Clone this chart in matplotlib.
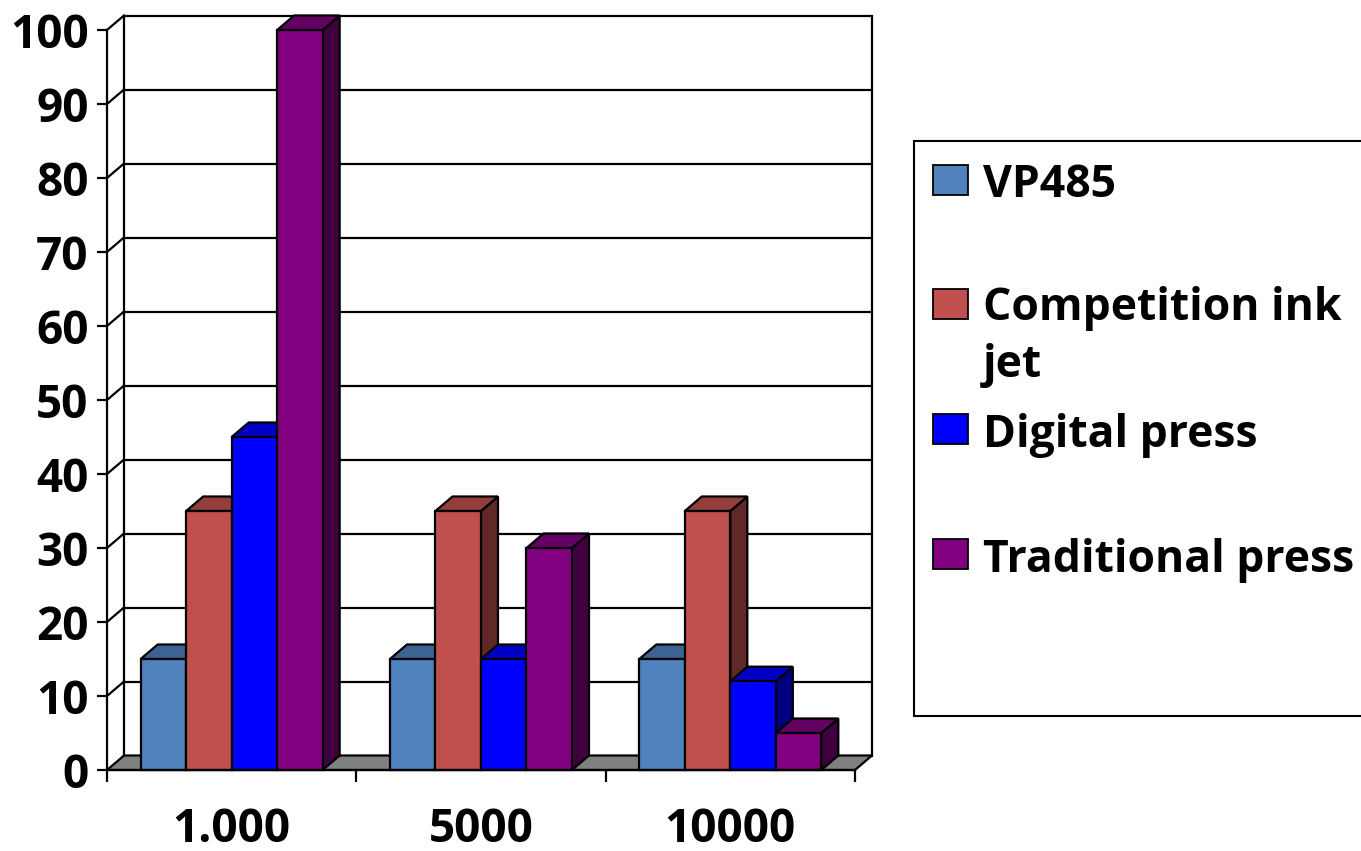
import matplotlib
matplotlib.use("Agg")
import matplotlib.pyplot as plt
from matplotlib.patches import Polygon, Rectangle
import numpy as np

# ---------------- data ----------------
categories = ["1.000", "5000", "10000"]
series_names = ["VP485", "Competition ink\njet", "Digital press", "Traditional press"]
vp485 = [15, 15, 15]
competition_ink_jet = [35, 35, 35]
digital_press = [45, 15, 12]
traditional_press = [100, 30, 5]
series_values = [vp485, competition_ink_jet, digital_press, traditional_press]
colors = ["#4F81BD", "#C0504D", "#0000FF", "#800080"]
y_ticks = list(range(0, 101, 10))

plt.rcParams['font.family'] = ['Open Sans', 'DejaVu Sans']
plt.rcParams['font.weight'] = 'bold'

W, H = 1361, 851
fig = plt.figure(figsize=(W / 100, H / 100), dpi=100)
fig.patch.set_facecolor('white')
ax = fig.add_axes([0, 0, 1, 1])

# scale setup (pixels per data unit)
PX_X, X0 = 249.33, 107
PX_Y, Y0 = 7.4, 770
ax.set_xlim(-X0 / PX_X, (W - X0) / PX_X)
ax.set_ylim(-(H - Y0) / PX_Y, Y0 / PX_Y)

DX = 17 / PX_X        # depth offset (x)
DY = 14.5 / PX_Y      # depth offset (y)
ncat = len(categories)
ymax = y_ticks[-1]
LW = 1.6

def shade(c, f):
    r, g, b = matplotlib.colors.to_rgb(c)
    return (r * f, g * f, b * f)

# ---------------- walls ----------------
for v in y_ticks[1:]:
    ax.plot([DX, ncat + DX], [v + DY, v + DY], color='black', lw=LW, zorder=1, solid_capstyle='butt')
    ax.plot([0, DX], [v, v + DY], color='black', lw=LW, zorder=1)
ax.plot([DX, DX], [DY, ymax + DY], color='black', lw=LW, zorder=1)
ax.plot([ncat + DX, ncat + DX], [DY, ymax + DY], color='black', lw=LW, zorder=1)

# floor
ax.add_patch(Polygon([(0, 0), (ncat, 0), (ncat + DX, DY), (DX, DY)], closed=True,
                     facecolor='#808080', edgecolor='black', lw=LW, zorder=2))

# ---------------- bars ----------------
BW = 45.5 / PX_X
nser = len(series_values)
z = 3
for j in range(ncat):
    for i in range(nser):
        v = series_values[i][j]
        x0 = j + 0.5 + (i - nser / 2) * BW
        c = colors[i]
        front = Rectangle((x0, 0), BW, v, facecolor=c, edgecolor='black', lw=LW, zorder=z)
        side = Polygon([(x0 + BW, 0), (x0 + BW + DX, DY), (x0 + BW + DX, v + DY), (x0 + BW, v)],
                       closed=True, facecolor=shade(c, 0.5), edgecolor='black', lw=LW, zorder=z)
        top = Polygon([(x0, v), (x0 + BW, v), (x0 + BW + DX, v + DY), (x0 + DX, v + DY)],
                      closed=True, facecolor=shade(c, 0.77), edgecolor='black', lw=LW, zorder=z)
        for p in (side, top, front):
            ax.add_patch(p)
        z += 0.01

# ---------------- axes ----------------
for s in ('top', 'right'):
    ax.spines[s].set_visible(False)
ax.spines['left'].set_position(('data', 0))
ax.spines['left'].set_bounds(0, ymax)
ax.spines['bottom'].set_position(('data', 0))
ax.spines['bottom'].set_bounds(0, ncat)
for s in ('left', 'bottom'):
    ax.spines[s].set_linewidth(LW)
    ax.spines[s].set_zorder(50)

ax.set_yticks(y_ticks)
ax.set_yticklabels([str(t) for t in y_ticks])
ax.tick_params(axis='y', direction='out', length=7.2, width=LW, pad=6, labelsize=33)

ax.set_xticks(np.arange(ncat + 1))
ax.set_xticklabels([])
ax.set_xticks(np.arange(ncat) + 0.5, minor=True)
ax.set_xticklabels(categories, minor=True)
ax.tick_params(axis='x', which='major', direction='out', length=8.6, width=LW)
ax.tick_params(axis='x', which='minor', length=0, pad=26, labelsize=33)
for lbl in ax.get_xticklabels(minor=True) + ax.get_yticklabels():
    lbl.set_fontweight('bold')

# ---------------- legend ----------------
def fx(px):
    return px / W

def fy(py):
    return 1 - py / H

fig.patches.append(Rectangle((fx(914), fy(716)), (1420 - 914) / W, (716 - 141) / H,
                             transform=fig.transFigure, facecolor='white',
                             edgecolor='black', lw=1.5, zorder=0))
sq_tops = [165, 289, 414, 539]
baselines = [197, 377, 447, 572]   # baseline of the last line of each label
for name, c, t, b in zip(series_names, colors, sq_tops, baselines):
    fig.patches.append(Rectangle((fx(933), fy(t + 30)), 35 / W, 30 / H,
                                 transform=fig.transFigure, facecolor=c,
                                 edgecolor='black', lw=1.3))
    fig.text(fx(983), fy(b), name, fontsize=32, fontweight='bold', va='baseline',
             ha='left', linespacing=1.35)

fig.savefig('out.png', dpi=100)
